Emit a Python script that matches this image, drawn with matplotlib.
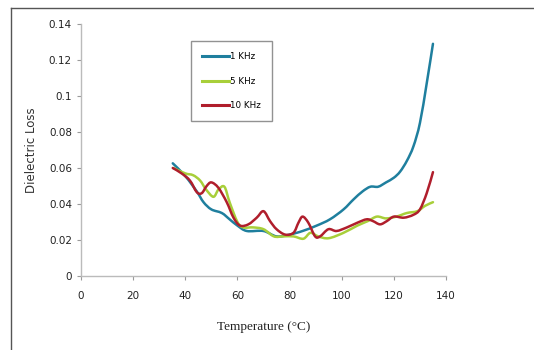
import matplotlib
matplotlib.use("Agg")
import matplotlib.pyplot as plt
import numpy as np
from matplotlib.lines import Line2D
from matplotlib.path import Path
from matplotlib.patches import PathPatch

# Dielectric loss vs temperature at three frequencies
temp_1k = [35.2, 40, 44.4, 47, 50, 54, 57, 60, 63.6, 70, 75, 80, 85, 90.4, 95.5,
           100.7, 104.5, 108, 111, 114, 117, 120, 122.4, 125, 127.5, 130, 132.6, 135]
loss_1k = [0.0626, 0.0555, 0.047, 0.041, 0.037, 0.035, 0.0315, 0.028, 0.025, 0.025,
           0.022, 0.023, 0.025, 0.028, 0.0315, 0.037, 0.0425, 0.047, 0.0496, 0.0496,
           0.052, 0.0546, 0.058, 0.064, 0.072, 0.085, 0.107, 0.129]

temp_5k = [35.4, 40, 43, 45.7, 48, 50.8, 52.7, 55, 57, 60, 62.3, 66, 70, 74, 77.6,
           81.5, 85.3, 88, 91, 95, 100.7, 106, 110, 113.5, 117, 121, 125, 129, 132, 135]
loss_5k = [0.060, 0.057, 0.056, 0.053, 0.048, 0.044, 0.048, 0.0496, 0.041, 0.030,
           0.027, 0.027, 0.026, 0.022, 0.022, 0.022, 0.0207, 0.024, 0.022, 0.021,
           0.024, 0.028, 0.0305, 0.033, 0.032, 0.033, 0.035, 0.036, 0.039, 0.041]

temp_10k = [35.2, 38.6, 41.8, 44.4, 46.3, 48.2, 50, 52.7, 55.9, 58.5, 61, 64.2, 67.4,
            70, 72.5, 75, 78.3, 81.5, 83.4, 85, 87.2, 89.8, 91.7, 94.9, 98, 102, 106,
            109.6, 112, 114.7, 117.3, 120, 123.8, 127.5, 130, 132.6, 135]
loss_10k = [0.060, 0.057, 0.053, 0.0466, 0.046, 0.050, 0.052, 0.049, 0.041, 0.0324,
            0.028, 0.0287, 0.0324, 0.036, 0.0305, 0.026, 0.023, 0.024, 0.0296, 0.033,
            0.0296, 0.022, 0.022, 0.026, 0.025, 0.027, 0.0296, 0.0315, 0.0305, 0.0287,
            0.0305, 0.033, 0.0324, 0.034, 0.037, 0.046, 0.0577]

x_ticks = [0, 20, 40, 60, 80, 100, 120, 140]
y_ticks = [0, 0.02, 0.04, 0.06, 0.08, 0.1, 0.12, 0.14]
y_tick_labels = ["0", "0.02", "0.04", "0.06", "0.08", "0.1", "0.12", "0.14"]

series = [
    ("1 KHz", temp_1k, loss_1k, "#1f7f9e"),
    ("5 KHz", temp_5k, loss_5k, "#a8cf3a"),
    ("10 KHz", temp_10k, loss_10k, "#b01e2c"),
]


def smooth_path(xs, ys):
    """Catmull-Rom style Bezier path through the given data points."""
    p = np.column_stack([xs, ys]).astype(float)
    n = len(p)
    verts = [p[0]]
    codes = [Path.MOVETO]
    for i in range(n - 1):
        p0 = p[i - 1] if i > 0 else p[i]
        p1, p2 = p[i], p[i + 1]
        p3 = p[i + 2] if i + 2 < n else p[i + 1]
        c1 = p1 + (p2 - p0) / 6.0
        c2 = p2 - (p3 - p1) / 6.0
        verts += [c1, c2, p2]
        codes += [Path.CURVE4] * 3
    return Path(verts, codes)


fig = plt.figure(figsize=(5.34, 3.5), dpi=100)
fig.patch.set_facecolor("white")

# outer frame along the top and left edges
fig.add_artist(Line2D([11 / 534, 1.0], [1 - 8 / 350, 1 - 8 / 350],
                      transform=fig.transFigure, color="#555555", lw=1.0))
fig.add_artist(Line2D([11 / 534, 11 / 534], [0, 1 - 8 / 350],
                      transform=fig.transFigure, color="#555555", lw=1.0))

ax = fig.add_axes([81 / 534, 1 - 276 / 350, 365 / 534, 252 / 350])
handles = []
for label, t, v, c in series:
    patch = PathPatch(smooth_path(t, v), facecolor="none", edgecolor=c, lw=1.8,
                      capstyle="round", joinstyle="round")
    ax.add_patch(patch)
    handles.append(Line2D([], [], color=c, lw=2.2, label=label))

ax.set_xlim(0, 140)
ax.set_ylim(0, 0.14)
ax.set_xticks(x_ticks)
ax.set_yticks(y_ticks)
ax.set_yticklabels(y_tick_labels)
ax.tick_params(axis="both", labelsize=7.5, colors="#9a9a9a", labelcolor="#222222",
               length=3, width=0.8)
ax.tick_params(axis="x", pad=8)

for side in ("top", "right"):
    ax.spines[side].set_visible(False)
for side in ("left", "bottom"):
    ax.spines[side].set_color("#bbbbbb")
    ax.spines[side].set_linewidth(1.0)

ax.set_ylabel("Dielectric Loss", fontsize=8.5, color="#333333", labelpad=8)
ax.set_xlabel("Temperature (°C)", fontsize=9.5, family="Liberation Serif",
              color="#222222", labelpad=14)

leg = ax.legend(handles=handles, loc="upper left",
                bbox_to_anchor=((191 - 81) / 365, (276 - 41) / 252),
                fontsize=6.3, frameon=True, fancybox=False, handlelength=3.0,
                handletextpad=0.1, labelspacing=1.75, borderpad=1.3,
                borderaxespad=0)
leg.get_frame().set_edgecolor("#777777")
leg.get_frame().set_linewidth(1.0)

fig.savefig("out.png", dpi=100, facecolor="white")
